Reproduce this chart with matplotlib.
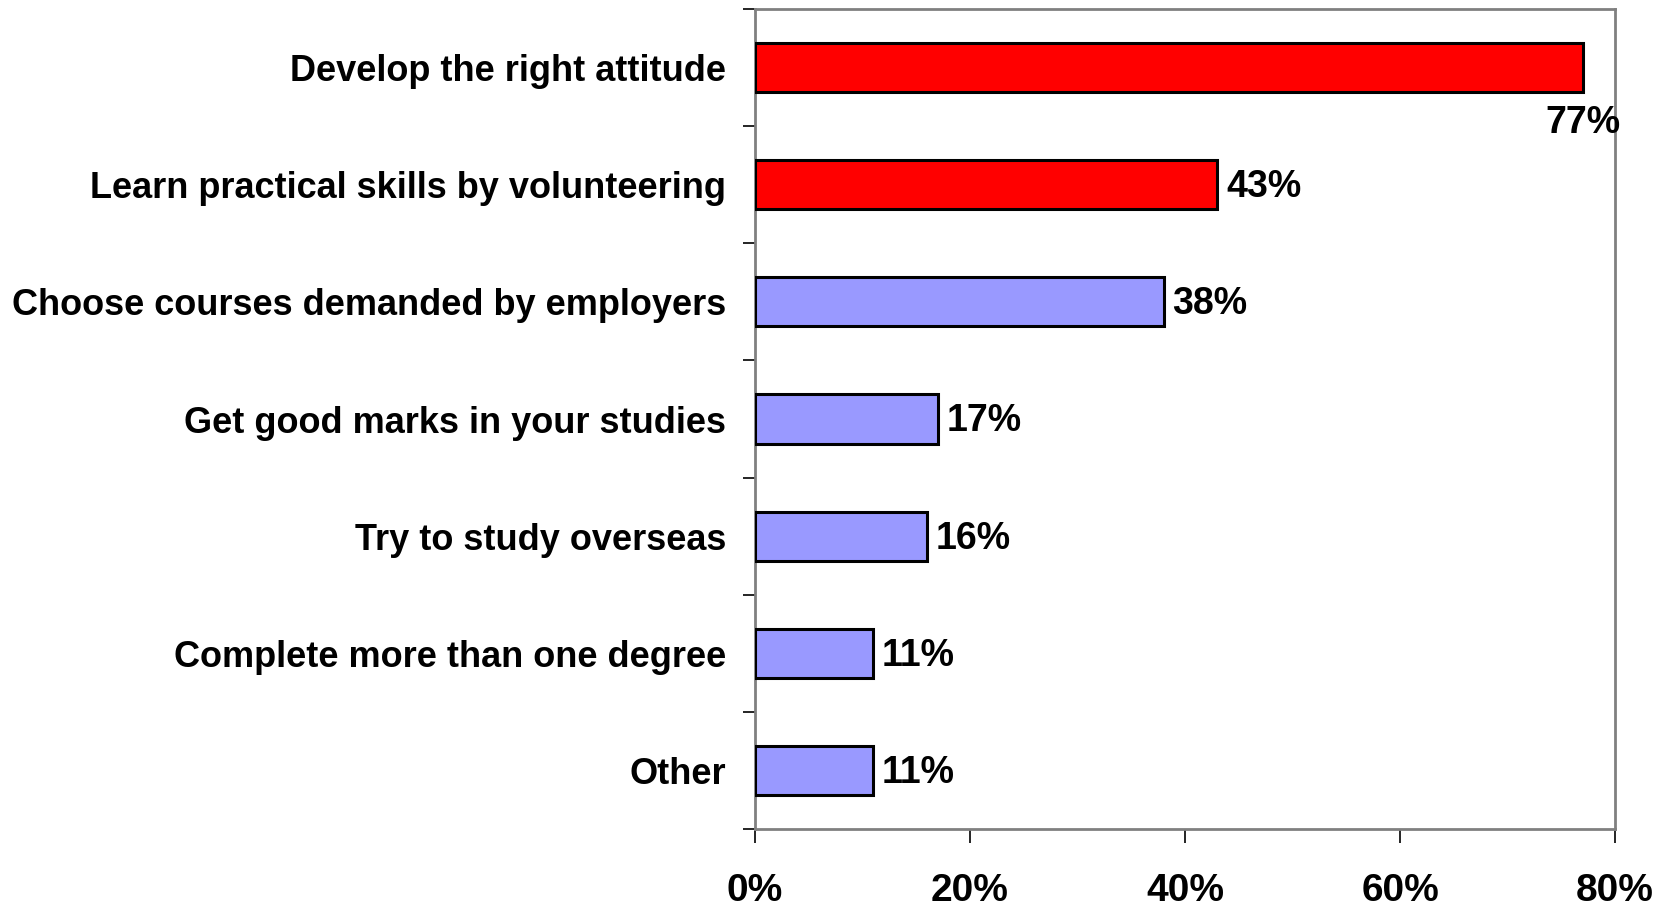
import matplotlib

matplotlib.use("Agg")
import matplotlib.pyplot as plt
import numpy as np

plt.rcParams["font.family"] = ["Liberation Sans", "DejaVu Sans"]

categories = [
    "Develop the right attitude",
    "Learn practical skills by volunteering",
    "Choose courses demanded by employers",
    "Get good marks in your studies",
    "Try to study overseas",
    "Complete more than one degree",
    "Other",
]
values = [77, 43, 38, 17, 16, 11, 11]
highlight = [True, True, False, False, False, False, False]
xticks = [0, 20, 40, 60, 80]

RED = "#FF0000"
BLUE = "#9999FF"
FRAME = "#808080"

fig = plt.figure(figsize=(16.72, 9.07), dpi=100)
ax = fig.add_axes([0.4516, 0.086, 0.5143, 0.904])

y = np.arange(len(categories))
colors = [RED if h else BLUE for h in highlight]
ax.barh(y, values, height=0.42, color=colors, edgecolor="black", linewidth=2.2, zorder=3)

ax.set_xlim(0, 80)
ax.set_ylim(len(categories) - 0.5, -0.5)

# value labels; the longest bar gets its label underneath the end
for yi, v in zip(y, values):
    if v == max(values):
        ax.text(v, yi + 0.47, f"{v}%", ha="center", va="center",
                fontsize=27, fontweight="bold", zorder=4)
    else:
        ax.text(v + 0.8, yi + 0.02, f"{v}%", ha="left", va="center",
                fontsize=27, fontweight="bold", zorder=4)

ax.set_yticks(y)
ax.set_yticklabels(categories, fontsize=26, fontweight="bold")
ax.set_yticks(np.arange(len(categories) + 1) - 0.5, minor=True)
ax.tick_params(axis="y", which="major", length=0, pad=21)
ax.tick_params(axis="y", which="minor", length=9, width=1.2, color="black")

ax.set_xticks(xticks)
ax.set_xticklabels([f"{t}%" for t in xticks], fontsize=28, fontweight="bold")
ax.tick_params(axis="x", length=10, width=1.2, color="black", pad=22)

for side in ["top", "right", "bottom", "left"]:
    ax.spines[side].set_color(FRAME)
    ax.spines[side].set_linewidth(2.0)

fig.savefig("out.png", dpi=100, facecolor="white")
